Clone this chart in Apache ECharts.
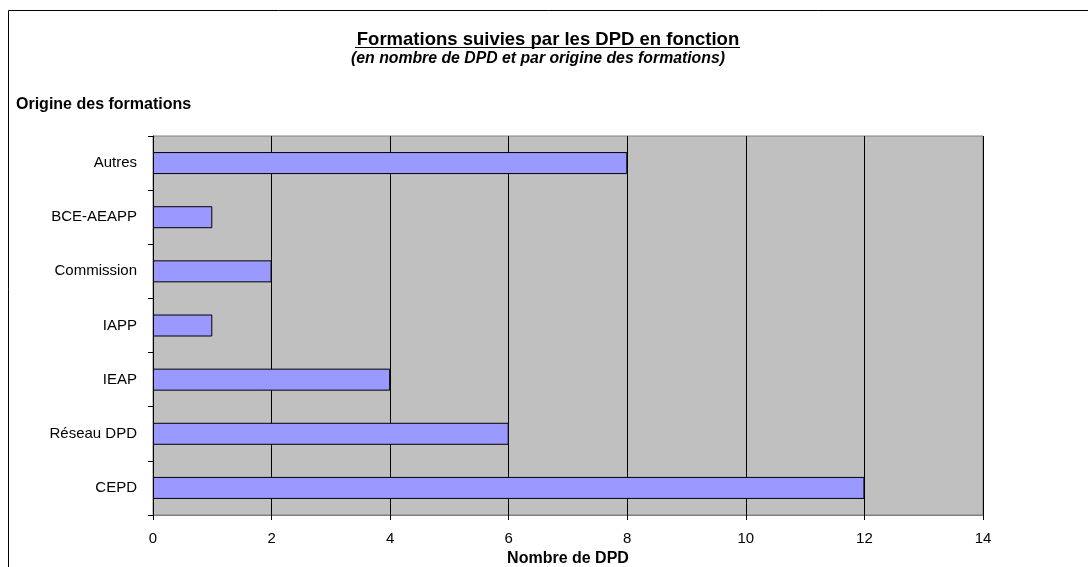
<!DOCTYPE html>
<html><head><meta charset="utf-8">
<script src="https://cdn.jsdelivr.net/npm/echarts@6/dist/echarts.min.js"></script>
<style>html,body{margin:0;padding:0;background:#fff}#c{width:1088px;height:567px}</style>
</head><body><div id="c"></div>
<script>
const categories = ['Autres', 'BCE-AEAPP', 'Commission', 'IAPP', 'IEAP', 'Réseau DPD', 'CEPD'];
const values = [8, 1, 2, 1, 4, 6, 12];
const xTicks = { min: 0, max: 14, interval: 2 };

const chart = echarts.init(document.getElementById('c'), null, { renderer: 'canvas' });
const F = 'Liberation Sans, Arial, sans-serif';
chart.setOption({
  animation: false,
  backgroundColor: '#fff',
  textStyle: { fontFamily: F },
  grid: { left: 153, right: 105, top: 136, bottom: 52, containLabel: false, outerBoundsMode: 'none', show: true, backgroundColor: '#c0c0c0', borderColor: '#808080', borderWidth: 1 },
  graphic: [
    { type: 'polyline', shape: { points: [[8.5, 600], [8.5, 10.5], [1100, 10.5]] }, style: { stroke: '#000', lineWidth: 1, fill: null } },
    { type: 'text', x: 548, y: 49, style: { text: 'Formations suivies par les DPD en fonction', font: 'bold 18.5px ' + F, fill: '#000', textAlign: 'center', textVerticalAlign: 'bottom' } },
    { type: 'line', shape: { x1: 355, y1: 47.5, x2: 740, y2: 47.5 }, style: { stroke: '#000', lineWidth: 1.2 } },
    { type: 'text', x: 538, y: 67, style: { text: '(en nombre de DPD et par origine des formations)', font: 'italic bold 15.8px ' + F, fill: '#000', textAlign: 'center', textVerticalAlign: 'bottom' } },
    { type: 'text', x: 16, y: 112.5, style: { text: 'Origine des formations', font: 'bold 16px ' + F, fill: '#000', textAlign: 'left', textVerticalAlign: 'bottom' } }
  ],
  xAxis: {
    type: 'value', min: xTicks.min, max: xTicks.max, interval: xTicks.interval,
    name: 'Nombre de DPD', nameLocation: 'middle', nameGap: 29,
    nameTextStyle: { fontWeight: 'bold', fontSize: 16, color: '#000', fontFamily: F },
    axisLine: { show: true, lineStyle: { color: '#808080', width: 1 } },
    axisTick: { show: true, length: 5, lineStyle: { color: '#000' } },
    axisLabel: { color: '#000', fontSize: 15, margin: 16, fontFamily: F },
    splitLine: { show: true, lineStyle: { color: '#000', width: 1 } }
  },
  yAxis: {
    type: 'category', data: categories, inverse: true,
    axisLine: { show: true, lineStyle: { color: '#000', width: 1 } },
    axisTick: { show: true, length: 5, lineStyle: { color: '#000' } },
    axisLabel: { color: '#000', fontSize: 15, margin: 16, fontFamily: F },
    splitLine: { show: false }
  },
  series: [{
    type: 'bar', data: values, barWidth: 22,
    itemStyle: { color: '#9999ff', borderColor: '#000', borderWidth: 1 }
  }]
});
</script></body></html>
